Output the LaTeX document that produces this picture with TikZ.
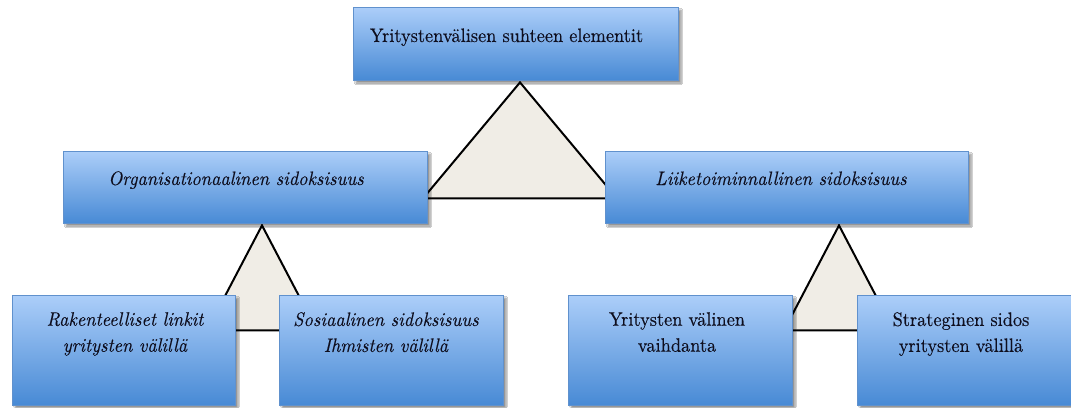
\documentclass[tikz,border=0pt]{standalone}
\usepackage{fontspec}
\setmainfont{Latin Modern Roman}[OpticalSize=10, FakeStretch=0.94, FakeBold=0.25]
\usetikzlibrary{calc,shadows.blur,backgrounds}

\definecolor{boxtop}{RGB}{172,206,249}
\definecolor{boxmid}{RGB}{124,176,237}
\definecolor{boxbot}{RGB}{72,138,213}
\definecolor{boxline}{RGB}{96,145,205}
\definecolor{trifill}{RGB}{240,237,230}
\definecolor{txt}{RGB}{14,14,30}

\tikzset{
  bluebox/.style={rectangle, draw=boxline, line width=0.8pt,
    top color=boxtop, middle color=boxmid, bottom color=boxbot,
    blur shadow={shadow xshift=3pt, shadow yshift=-3pt, shadow blur steps=6, shadow opacity=45},
    inner sep=0pt},
  boxtext/.style={inner sep=0pt, align=center, text=txt,
    font=\fontsize{19.5}{26}\selectfont},
  itboxtext/.style={boxtext, font=\itshape\fontsize{19.5}{26}\selectfont},
  wedge/.style={draw=black, fill=trifill, line width=2pt, line join=miter}
}

\begin{document}
\begin{tikzpicture}[x=1pt, y=-1pt]
  \clip (0,0) rectangle (1071,407);

  % boxes
  \node[bluebox, minimum width=325pt, minimum height=73pt] (top) at (515.5,43.5) {};
  \node[bluebox, minimum width=364pt, minimum height=72pt] (org) at (245,187) {};
  \node[bluebox, minimum width=363pt, minimum height=72pt] (liike) at (786.5,187) {};
  \node[bluebox, minimum width=223pt, minimum height=110pt] (rak) at (123.5,350) {};
  \node[bluebox, minimum width=224pt, minimum height=110pt] (sos) at (391,350) {};
  \node[bluebox, minimum width=224pt, minimum height=110pt] (vaih) at (680,350) {};
  \node[bluebox, minimum width=224pt, minimum height=110pt] (strat) at (969,350) {};

  % labels
  \node[boxtext, anchor=base] (topt) at (506.5,42) {Yritystenvälisen suhteen elementit};
  \node[itboxtext, anchor=base] (orgt) at (236,185) {Organisationaalinen sidoksisuus};
  \node[itboxtext, anchor=base] (liiket) at (781,185) {Liiketoiminnallinen sidoksisuus};
  \node[itboxtext, anchor=north] (rakt) at (125,312) {Rakenteelliset linkit\\yritysten välillä};
  \node[itboxtext, anchor=north] (sost) at (386,312) {Sosiaalinen sidoksisuus\\Ihmisten välillä};
  \node[boxtext, anchor=north] (vaiht) at (677,312) {Yritysten välinen\\vaihdanta};
  \node[boxtext, anchor=north] (stratt) at (961,312) {Strateginen sidos\\yritysten välillä};

  % triangles joining each parent to its two children
  \coordinate (a1) at ($(top.south)+(4.5,2)$);
  \coordinate (a2) at ($(org.south)+(17,2)$);
  \coordinate (a3) at ($(liike.south)+(52.5,2)$);
  \begin{pgfonlayer}{background}
    \fill[white] (0,0) rectangle (1071,407);
    \draw[wedge] (a1) -- ($(a1)+(-97,116)$) -- ($(a1)+(97,116)$) -- cycle;
    \draw[wedge] (a2) -- ($(a2)+(-55,105)$) -- ($(a2)+(55,105)$) -- cycle;
    \draw[wedge] (a3) -- ($(a3)+(-55,105)$) -- ($(a3)+(55,105)$) -- cycle;
  \end{pgfonlayer}
\end{tikzpicture}
\end{document}
